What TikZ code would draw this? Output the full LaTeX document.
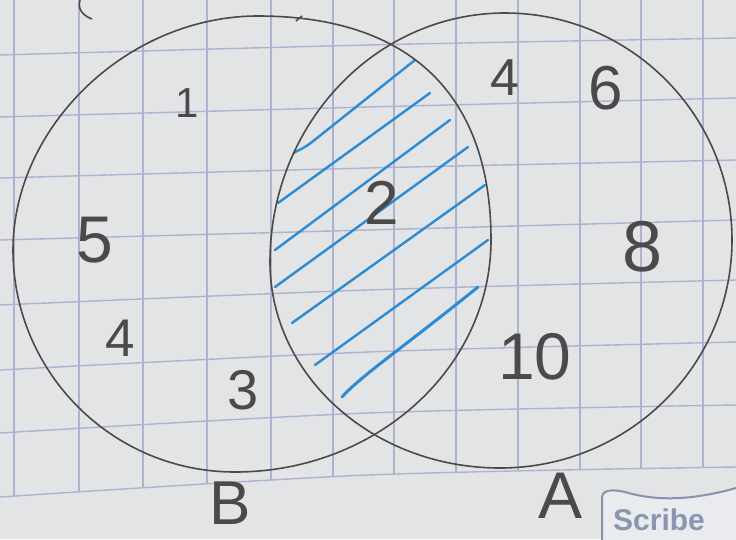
\documentclass[tikz,border=0pt]{standalone}
\usepackage{fontspec}
\setmainfont{Liberation Sans}
\definecolor{paper}{HTML}{E3E4E6}
\definecolor{gridc}{HTML}{AEB1CF}
\definecolor{ink}{HTML}{4A4A4A}
\definecolor{hatch}{HTML}{2C8BD2}
\definecolor{logoline}{HTML}{8891AE}
\definecolor{logotext}{HTML}{8A96B0}
\definecolor{logofill}{HTML}{E9EBEF}
\begin{document}
\begin{tikzpicture}[x=1pt,y=-1pt,
  gridline/.style={gridc, line width=1.4pt},
  setline/.style={ink, line width=1.6pt},
  hatchline/.style={hatch, line width=2.4pt, line cap=round},
  num/.style={font=\fontsize{#1}{#1}\selectfont, text=ink, inner sep=0pt}]
\useasboundingbox (0,0) rectangle (736,539);
\clip (0,0) rectangle (736,539);
\fill[paper] (0,0) rectangle (736,539);
% grid
\begin{scope}
  \clip (736,0) -- (0,0) -- plot[smooth] coordinates {(0,497) (368,475) (736,467)} -- cycle;
  \foreach \x in {14,79,143,207,271,333,394,456,518,580,641,703}
    \draw[gridline] (\x,0) -- (\x,539);
\end{scope}
\foreach \a/\b/\c in {55/45/38, 117/107/98, 178/168/160, 240/230/220, 305/290/280, 370/352/342, 433/413/405, 497/475/467}
  \draw[gridline] plot[smooth] coordinates {(0,\a) (368,\b) (736,\c)};
% hatching inside A and B
\begin{scope}
  \clip (258,16) .. controls (409.5,16) and (491,94.4) .. (491,240)
        .. controls (491,368) and (376.3,472) .. (235,472)
        .. controls (112.5,472) and (13,372.5) .. (13,250)
        .. controls (13,126) and (128,16) .. cycle;
  \clip (505,13) .. controls (630.3,13) and (732,114.7) .. (732,240)
        .. controls (732,365.9) and (628,468) .. (500,468)
        .. controls (373,468) and (270,375.7) .. (270,262)
        .. controls (270,124.5) and (375.3,13) .. cycle;
  \draw[hatchline] (287,157) .. controls (297,150) and (302,150) .. (312,142) -- (415,60);
  \draw[hatchline] (278,203) -- (430,93);
  \draw[hatchline] (275,250) -- (450,120);
  \draw[hatchline] (275,287) -- (468,147);
  \draw[hatchline] (292,323) -- (485,185);
  \draw[hatchline] (315,365) -- (488,240);
  \draw[hatchline, line width=3pt] (342,397) .. controls (362,375) and (400,350) .. (478,287);
\end{scope}
% set B
\draw[setline] (258,16) .. controls (409.5,16) and (491,94.4) .. (491,240)
        .. controls (491,368) and (376.3,472) .. (235,472)
        .. controls (112.5,472) and (13,372.5) .. (13,250)
        .. controls (13,126) and (128,16) .. cycle;
\draw[setline] (296,21) -- (302,16);
% set A
\draw[setline] (505,13) .. controls (630.3,13) and (732,114.7) .. (732,240)
        .. controls (732,365.9) and (628,468) .. (500,468)
        .. controls (373,468) and (270,375.7) .. (270,262)
        .. controls (270,124.5) and (375.3,13) .. cycle;
% stray mark top left
\draw[setline] (80,0) .. controls (77,10) and (84,16) .. (92,19);
% labels
\node[num=42] (n1) at (187,103) {1};
\node[num=66] (n5) at (95,240) {5};
\node[num=53] (n4l) at (120,338) {4};
\node[num=56] (n3) at (243,390) {3};
\node[num=62] (n2) at (382,203) {2};
\node[num=52] (n4r) at (505,78) {4};
\node[num=62] (n6) at (606,88) {6};
\node[num=72] (n8) at (643,247) {8};
\node[num=66] (n10) at (535,357) {10};
\node[num=62] (lB) at (230,503) {B};
\node[num=66] (lA) at (561,496) {A};
% watermark
\fill[logofill] (602,545) -- (602,497) .. controls (603,490) and (612,489) .. (625,492) .. controls (645,498) and (680,504) .. (736,488) -- (740,545) -- cycle;
\draw[logoline, line width=2pt] (602,545) -- (602,497) .. controls (603,490) and (612,489) .. (625,492) .. controls (645,498) and (680,504) .. (736,488);
\node[anchor=base west, inner sep=0pt, text=logotext, font=\fontsize{30}{30}\selectfont\bfseries] (logo) at (613,530) {Scribe};
\end{tikzpicture}
\end{document}
